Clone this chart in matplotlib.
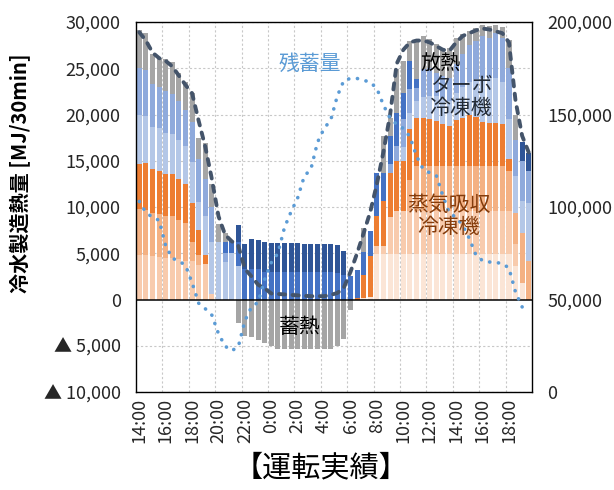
import numpy as np
import matplotlib
matplotlib.use("Agg")
import matplotlib.pyplot as plt
from matplotlib.ticker import FuncFormatter

plt.rcParams['font.family'] = ['Noto Sans CJK JP', 'DejaVu Sans']

# 30分ごとの時刻 (14:00 ～ 翌19:30)
times = [f"{(14 + i // 2) % 24}:{'30' if i % 2 else '00'}" for i in range(60)]

# 蒸気吸収冷凍機 (号機別)
absorb1 = [0]*36 + [4870, 4870, 4870, 4870, 4870, 4870, 4870, 4870, 4870, 4870,
                    4870, 4870, 4870, 4870, 4870, 4870, 4870, 4870, 4870, 4870,
                    4870, 3600, 1800, 0]
absorb1[34] = 180
absorb1[35] = 290
absorb2 = [4800, 4800, 4700, 4650, 4500, 4450, 4350, 4200, 4150, 3700,
           3800, 600, 0, 0, 0, 0, 0, 0, 0, 0,
           0, 0, 0, 0, 0, 0, 0, 0, 0, 0,
           0, 0, 0, 0, 0, 0, 900, 900, 4100, 4700,
           4700, 4700, 4700, 4700, 4700, 4700, 4700, 4700, 4700, 4700,
           4700, 4700, 4700, 4700, 4700, 4700, 4700, 2400, 0, 0]
absorb3 = [5000, 4900, 4700, 4550, 4550, 4550, 4300, 4100, 2050, 1100,
           0, 0, 0, 0, 0, 0, 0, 0, 0, 0,
           0, 0, 0, 0, 0, 0, 0, 0, 0, 0,
           0, 0, 0, 0, 0, 0, 0, 0, 0, 0,
           0, 3400, 4870, 4870, 4870, 4870, 4870, 4870, 4870, 4870,
           4870, 4870, 4870, 4870, 4870, 4870, 4330, 3400, 5420, 4150]
absorb4 = [4900, 5100, 4700, 4700, 4500, 4550, 4350, 4150, 4270, 2700,
           1000, 0, 0, 0, 0, 0, 0, 0, 0, 0,
           0, 0, 0, 0, 0, 0, 0, 0, 0, 0,
           0, 0, 0, 180, 2420, 4400, 3250, 4880, 4700, 5430,
           5400, 5440, 5230, 5230, 5060, 4860, 4510, 4330, 4960, 5160,
           5560, 5260, 4760, 4660, 4660, 4560, 1330, 0, 0, 0]

# ターボ冷凍機 (号機別)
turbo1 = [5200, 5000, 4600, 4600, 4500, 4350, 4300, 4150, 4400, 3000,
          4200, 5600, 6200, 4050, 5000, 3600, 0, 0, 0, 0,
          0, 0, 0, 0, 0, 0, 0, 0, 0, 0,
          0, 0, 0, 0, 0, 0, 0, 0, 0, 0,
          1500, 1800, 1800, 2200, 2500, 2700, 2850, 2730, 2900, 3400,
          3500, 4100, 4800, 4900, 4900, 4500, 4300, 4000, 3430, 6320]
turbo2 = [5100, 5000, 4600, 4500, 4450, 4350, 4150, 3900, 4330, 4700,
          4000, 3800, 0, 1000, 0, 0, 0, 0, 0, 0,
          0, 0, 0, 0, 0, 0, 0, 0, 0, 0,
          0, 0, 0, 0, 0, 0, 0, 0, 1000, 1600,
          3000, 2530, 1450, 3030, 3000, 2500, 2400, 2500, 3200, 3500,
          4000, 4200, 4500, 4300, 4800, 4800, 5500, 3800, 4330, 3430]
turbo3 = [0]*13 + [1150, 1300, 2600, 3250, 3250, 3250, 3000,
                   2950, 2950, 2950, 2950, 2950, 2950, 2950, 2950, 2950, 2950,
                   2900, 2700, 2500, 3000, 2530, 2710, 4630, 3000, 3000, 3600,
                   2900, 3070, 910] + [0]*17
turbo4 = [0]*15 + [1900, 2800, 3250, 3200, 3200,
                   3200, 3150, 3150, 3150, 3150, 3100, 3100, 3100, 3050, 3000,
                   3000, 2500] + [0]*26 + [2000, 1980]

# 蓄熱槽 (正:放熱, 負:蓄熱)
storage = [4100, 4000, 3200, 3100, 3500, 3400, 3000, 3050, 3180, 2300,
           3900, 2500, 2000, 1000, 0, -2500, -3950, -4000, -4400, -4700,
           -5050, -5300, -5400, -5400, -5400, -5400, -5400, -5400, -5400, -5350,
           -5000, -4300, -1100, 0, 2630, 0, 0, 4040, 2000, 4700,
           3400, 2170, 4260, 3600, 3200, 3100, 2800, 3200, 2800, 2200,
           1500, 1400, 1200, 1300, 900, 1200, 3000, 2700, 0, 0]

# 冷房負荷
load = [28900, 28000, 26700, 26100, 25800, 25200, 24200, 23200, 22300, 19300,
        16500, 13000, 9000, 7000, 6300, 5800, 3300, 2500, 1600, 1200,
        650, 600, 550, 500, 450, 400, 360, 360, 360, 500,
        700, 1300, 3000, 5000, 7200, 9500, 12500, 16000, 20000, 25500,
        27000, 27800, 28000, 28000, 27800, 27400, 27000, 26900, 27800, 28500,
        28800, 29100, 29300, 29200, 29000, 28800, 27800, 21500, 17700, 15900]

# 残蓄量 (右軸)
remain = [103000, 97000, 94500, 92800, 79000, 72300, 70800, 68500, 59000, 48000,
          45000, 41500, 31500, 24800, 22300, 24500, 38500, 46000, 48500, 61000,
          70000, 75000, 89000, 97500, 105000, 116700, 120500, 135000, 142500, 147000,
          160000, 168500, 169500, 169500, 168500, 167500, 164000, 155000, 148000, 144700,
          142500, 138000, 127500, 120500, 118500, 117000, 106000, 96500, 94500, 90000,
          83000, 74000, 71000, 70300, 70000, 69500, 67000, 54000, 46000, np.nan]

series = [absorb1, absorb2, absorb3, absorb4, turbo1, turbo2, turbo3, turbo4]
colors = ['#FBE5D6', '#F8CBAD', '#F4B183', '#ED7D31',
          '#B4C7E7', '#8FAADC', '#4472C4', '#2F5597']

x = np.arange(len(times))
storage = np.array(storage, dtype=float)

fig = plt.figure(figsize=(6.14, 4.90), dpi=100)
ax = fig.add_axes([0.2215, 0.2, 0.645, 0.755])

# grid
for yv in range(-10000, 30001, 5000):
    if yv != 0:
        ax.axhline(yv, color='#C8C8C8', lw=0.8, ls=(0, (2, 2)), zorder=0)
for xv in np.arange(3.5, 59.5, 4):
    ax.axvline(xv, color='#C8C8C8', lw=0.8, ls=(0, (2, 2)), zorder=0)

bottom = np.zeros(len(x))
for vals, c in zip(series, colors):
    vals = np.array(vals, dtype=float)
    ax.bar(x, vals, 0.78, bottom=bottom, color=c, zorder=2)
    bottom += vals
pos = np.clip(storage, 0, None)
neg = np.clip(storage, None, 0)
ax.bar(x, pos, 0.78, bottom=bottom, color='#A5A5A5', zorder=2)
ax.bar(x, neg, 0.78, color='#A5A5A5', zorder=2)

ax.axhline(0, color='black', lw=1.1, zorder=3)
ax.plot(x, load, color='#44546A', lw=2.8, ls=(0, (1.6, 1.9)),
        dash_capstyle='round', zorder=4)

ax.set_xlim(-0.5, len(x) - 0.5)
ax.set_ylim(-10000, 30000)
ax.set_yticks(range(-10000, 30001, 5000))
ax.yaxis.set_major_formatter(FuncFormatter(
    lambda v, p: f"▲ {abs(v):,.0f}" if v < 0 else f"{v:,.0f}"))
ax.set_xticks(x[::4])
ax.set_xticklabels(times[::4], rotation=90)
ax.tick_params(axis='y', length=0, pad=11, labelsize=13, labelcolor='#262626')
ax.tick_params(axis='x', length=0, pad=4, labelsize=13, labelcolor='#262626')
for s in ax.spines.values():
    s.set_color('#000000')
    s.set_linewidth(1.0)
ax.set_ylabel("冷水製造熱量 [MJ/30min]", fontsize=14.5, fontweight='bold')
ax.yaxis.set_label_coords(-0.265, 0.59)

ax2 = ax.twinx()
ax2.plot(x, remain, color='#5B9BD5', lw=2.6, ls=(0, (0.05, 2.4)),
         dash_capstyle='round', zorder=5)
ax2.set_ylim(0, 200000)
ax2.set_yticks(range(0, 200001, 50000))
ax2.yaxis.set_major_formatter(FuncFormatter(lambda v, p: f"{v:,.0f}"))
ax2.tick_params(axis='y', length=0, pad=11, labelsize=13, labelcolor='#262626')
for s in ax2.spines.values():
    s.set_visible(False)

fig.text(310 / 614, 1 - 64 / 490, "残蓄量", color='#5B9BD5', fontsize=15,
         ha='center', va='center')
fig.text(441 / 614, 1 - 64 / 490, "放熱", fontsize=14.5, ha='center', va='center')
fig.text(461 / 614, 1 - 97 / 490, "ターボ\n冷凍機", fontsize=15, ha='center',
         va='center', color='#222A35', linespacing=1.05)
fig.text(449 / 614, 1 - 216 / 490, "蒸気吸収\n冷凍機", fontsize=15, ha='center',
         va='center', color='#843C0C', linespacing=1.05)
fig.text(300 / 614, 1 - 327 / 490, "蓄熱", fontsize=15, ha='center', va='center')
fig.text(321 / 614, 1 - 468 / 490, "【運転実績】", fontsize=21, ha='center',
         va='center')

fig.savefig("out.png", dpi=100)
